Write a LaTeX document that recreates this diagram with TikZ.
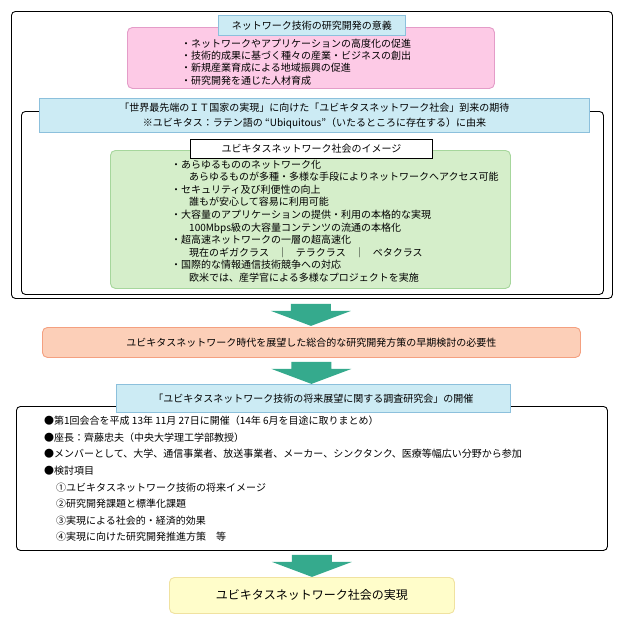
\documentclass[tikz,border=0pt]{standalone}
\usepackage{fontspec}
\setmainfont{Noto Sans CJK JP}
\newfontfamily\jp{Noto Sans CJK JP}
\usetikzlibrary{calc}
\definecolor{ttlfill}{HTML}{CCEBF4}
\definecolor{ttlline}{HTML}{8CC0DC}
\definecolor{pinkfill}{HTML}{FDCAE6}
\definecolor{pinkline}{HTML}{E49CC8}
\definecolor{greenfill}{HTML}{D5EECA}
\definecolor{greenline}{HTML}{A6D69C}
\definecolor{salmonfill}{HTML}{FCCFB8}
\definecolor{salmonline}{HTML}{F4A080}
\definecolor{yellowfill}{HTML}{FFFDCA}
\definecolor{yellowline}{HTML}{F0E2A0}
\definecolor{arrowgreen}{HTML}{35AA8D}
\newcommand{\sep}{\hspace{8.5pt}｜\hspace{8.5pt}}
\tikzset{
  every node/.style={font=\jp\fontsize{10}{12}\selectfont},
  frame/.style={draw=black, line width=0.9pt, rounded corners=4pt, anchor=north west, inner sep=0pt},
  softbox/.style={line width=0.9pt, rounded corners=5pt, anchor=north west, inner sep=0pt},
  ttl/.style={draw=ttlline, fill=ttlfill, line width=0.9pt, anchor=north west, inner sep=0pt, align=center},
  txt/.style={anchor=west, inner sep=0pt, align=left},
  blockarrow/.style={fill=arrowgreen},
}
\newcommand{\bigarrow}[2]{%
  \coordinate (#1) at #2;
  \fill[blockarrow] ($(#1)+(-20,0)$) -- ($(#1)+(20,0)$) -- ($(#1)+(20,7)$) -- ($(#1)+(40,7)$)
    -- ($(#1)+(0,22)$) -- ($(#1)+(-40,7)$) -- ($(#1)+(-20,7)$) -- cycle;}
\begin{document}
\begin{tikzpicture}[x=1pt,y=-1pt]
\useasboundingbox (0,0) rectangle (622,624);
\fill[white] (0,0) rectangle (622,624);
% upper frame
\node[frame, minimum width=601pt, minimum height=287pt] (outer1) at (11,11) {};
\node[softbox, draw=pinkline, fill=pinkfill, minimum width=367pt, minimum height=61pt] (pink) at (127,27) {};
\node[ttl, minimum width=187pt, minimum height=20pt] (title1) at (218,15) {ネットワーク技術の研究開発の意義};
\node[txt, font=\jp\fontsize{10}{12.2}\selectfont] (pinktext) at (181,62) {・ネットワークやアプリケーションの高度化の促進\\・技術的成果に基づく種々の産業・ビジネスの創出\\・新規産業育成による地域振興の促進\\・研究開発を通じた人材育成};
\node[frame, minimum width=582pt, minimum height=183pt] (inner) at (21,111) {};
\node[ttl, minimum width=550pt, minimum height=34pt, font=\jp\fontsize{10}{15}\selectfont] (band) at (39,98) {「世界最先端のＩＴ国家の実現」に向けた「ユビキタスネットワーク社会」到来の期待\\※ユビキタス：ラテン語の “Ubiquitous”（いたるところに存在する）に由来};
\node[softbox, draw=greenline, fill=greenfill, minimum width=400pt, minimum height=138pt] (green) at (110,150) {};
\node[frame, rounded corners=0pt, fill=white, minimum width=242pt, minimum height=19pt] (imgtitle) at (190,139) {ユビキタスネットワーク社会のイメージ};
\node[txt, font=\jp\fontsize{10}{12.6}\selectfont] (greentext) at (171,221) {・あらゆるもののネットワーク化\\\hspace*{18pt}あらゆるものが多種・多様な手段によりネットワークへアクセス可能\\・セキュリティ及び利便性の向上\\\hspace*{18pt}誰もが安心して容易に利用可能\\・大容量のアプリケーションの提供・利用の本格的な実現\\\hspace*{18pt}100Mbps級の大容量コンテンツの流通の本格化\\・超高速ネットワークの一層の超高速化\\\hspace*{18pt}現在のギガクラス\sep テラクラス\sep ペタクラス\\・国際的な情報通信技術競争への対応\\\hspace*{18pt}欧米では、産学官による多様なプロジェクトを実施};
% middle
\node[softbox, draw=salmonline, fill=salmonfill, minimum width=538pt, minimum height=30pt] (salmon) at (42,327) {ユビキタスネットワーク時代を展望した総合的な研究開発方策の早期検討の必要性};
\bigarrow{a1}{($(outer1.south)+(-1,5)$)}
\node[frame, minimum width=591pt, minimum height=144pt] (box4) at (16,406) {};
\node[ttl, minimum width=394pt, minimum height=28pt] (title3) at (116,384) {「ユビキタスネットワーク技術の将来展望に関する調査研究会」の開催};
\bigarrow{a2}{($(salmon.south)+(0,4)$)}
\node[txt, font=\jp\fontsize{10}{16.6}\selectfont] (box4text) at (44,479) {●第1回会合を平成 13年 11月 27日に開催（14年 6月を目途に取りまとめ）\\●座長：齊藤忠夫（中央大学理工学部教授）\\●メンバーとして、大学、通信事業者、放送事業者、メーカー、シンクタンク、医療等幅広い分野から参加\\●検討項目\\\hspace*{12pt}①ユビキタスネットワーク技術の将来イメージ\\\hspace*{12pt}②研究開発課題と標準化課題\\\hspace*{12pt}③実現による社会的・経済的効果\\\hspace*{12pt}④実現に向けた研究開発推進方策　等};
\node[softbox, draw=yellowline, fill=yellowfill, minimum width=285pt, minimum height=36pt, font=\jp\fontsize{12}{14}\selectfont] (yellow) at (169,577) {ユビキタスネットワーク社会の実現};
\bigarrow{a3}{($(box4.south)+(0,4)$)}
\end{tikzpicture}
\end{document}
